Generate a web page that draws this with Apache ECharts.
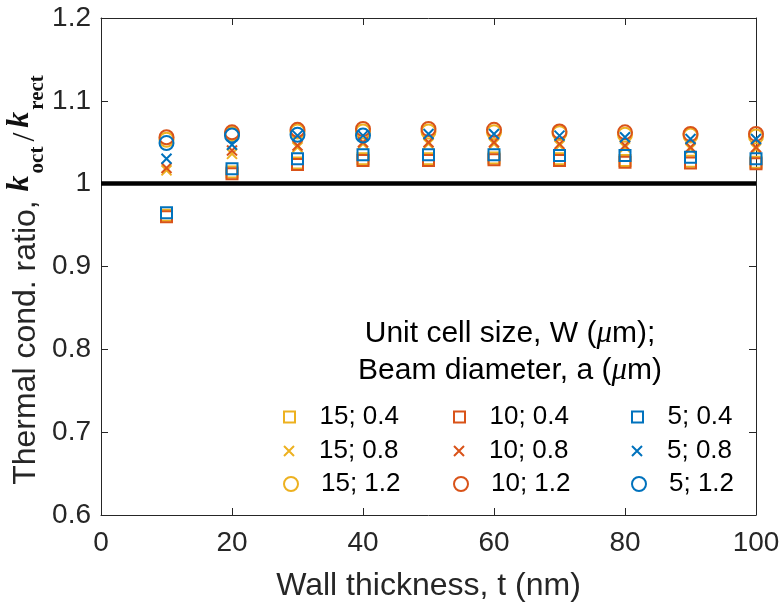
<!DOCTYPE html>
<html>
<head>
<meta charset="utf-8">
<script src="https://cdn.jsdelivr.net/npm/echarts@6/dist/echarts.min.js"></script>
<style>
  html, body { margin: 0; padding: 0; background: #fff; }
  #chart { width: 783px; height: 607px; }
</style>
</head>
<body>
<div id="chart"></div>
<script>
// Wall thickness t (nm)
const wallThickness = [10, 20, 30, 40, 50, 60, 70, 80, 90, 100];

// Thermal conductivity ratio k_oct / k_rect, one array per (W; a) pair
const ratioW15a04 = [0.962, 1.014, 1.025, 1.030, 1.030, 1.031, 1.030, 1.028, 1.027, 1.026];
const ratioW15a08 = [1.016, 1.036, 1.044, 1.048, 1.048, 1.048, 1.046, 1.044, 1.042, 1.042];
const ratioW15a12 = [1.053, 1.060, 1.063, 1.063, 1.063, 1.062, 1.061, 1.059, 1.058, 1.057];
const ratioW10a04 = [0.960, 1.012, 1.023, 1.028, 1.028, 1.029, 1.028, 1.026, 1.025, 1.024];
const ratioW10a08 = [1.019, 1.040, 1.046, 1.050, 1.050, 1.050, 1.048, 1.046, 1.044, 1.044];
const ratioW10a12 = [1.056, 1.062, 1.065, 1.066, 1.066, 1.065, 1.063, 1.062, 1.060, 1.060];
const ratioW5a04  = [0.965, 1.018, 1.030, 1.035, 1.035, 1.035, 1.034, 1.034, 1.032, 1.030];
const ratioW5a08  = [1.030, 1.047, 1.058, 1.058, 1.060, 1.060, 1.058, 1.056, 1.054, 1.054];
const ratioW5a12  = [1.049, 1.058, 1.059, 1.058, null, null, null, null, null, null];

// Legend labels "W; a"
const seriesLabels = ['15; 0.4', '15; 0.8', '15; 1.2', '10; 0.4', '10; 0.8', '10; 1.2', '5; 0.4', '5; 0.8', '5; 1.2'];

// Axis ranges and tick steps
const xRange = [0, 100];
const xTickStep = 20;
const yRange = [0.6, 1.2];
const yTickStep = 0.1;

// Reference ratio (octet equals rectangular)
const referenceRatio = 1;

// ---- styling ----
const COLORS = { W15: '#EDB120', W10: '#D95319', W5: '#0072BD' };
const MARKERS = {
  square: { symbol: 'path://M0 0H10V10H0Z', size: 11 },
  cross:  { symbol: 'path://M0 0L10 10M10 0L0 10', size: 10 },
  circle: { symbol: 'circle', size: 14 }
};
const AXIS_COLOR = '#262626';
const SANS = '"Liberation Sans", Arial, Helvetica, sans-serif';
const SERIF = '"Liberation Serif", "Times New Roman", serif';

const groups = [
  { values: ratioW15a04, color: COLORS.W15, marker: 'square' },
  { values: ratioW15a08, color: COLORS.W15, marker: 'cross' },
  { values: ratioW15a12, color: COLORS.W15, marker: 'circle' },
  { values: ratioW10a04, color: COLORS.W10, marker: 'square' },
  { values: ratioW10a08, color: COLORS.W10, marker: 'cross' },
  { values: ratioW10a12, color: COLORS.W10, marker: 'circle' },
  { values: ratioW5a04,  color: COLORS.W5,  marker: 'square' },
  { values: ratioW5a08,  color: COLORS.W5,  marker: 'cross' },
  { values: ratioW5a12,  color: COLORS.W5,  marker: 'circle' }
];

// legend grid: columns by W, rows by a (marker centres)
const legendColCenters = [289, 459, 637];
const legendRowCenters = [416, 450, 483];

const series = groups.map((g, i) => {
  const m = MARKERS[g.marker];
  const s = {
    name: seriesLabels[i],
    type: 'scatter',
    xAxisIndex: 0,
    yAxisIndex: 0,
    symbol: m.symbol,
    symbolSize: m.size,
    itemStyle: { color: 'rgba(0,0,0,0)', borderColor: g.color, borderWidth: 2, opacity: 1 },
    emphasis: { disabled: true },
    data: wallThickness
      .map((t, k) => [t, g.values[k]])
      .filter(p => p[1] !== null)
  };
  if (i === 0) {
    s.markLine = {
      silent: true,
      symbol: ['none', 'none'],
      label: { show: false },
      lineStyle: { color: '#000', width: 4.5, type: 'solid' },
      emphasis: { disabled: true },
      data: [{ yAxis: referenceRatio }]
    };
  }
  return s;
});

const legends = groups.map((g, i) => {
  const m = MARKERS[g.marker];
  const col = Math.floor(i / 3);
  const row = i % 3;
  return {
    data: [seriesLabels[i]],
    left: legendColCenters[col] - 6,
    top: legendRowCenters[row] - 12,
    padding: 0,
    itemWidth: 50,
    itemHeight: m.size,
    selectedMode: false,
    itemStyle: { borderWidth: 2 },
    textStyle: { fontFamily: SANS, fontSize: 26, color: '#000' }
  };
});

const baseAxisLine = { show: true, onZero: false, lineStyle: { color: AXIS_COLOR, width: 1 } };
const baseTick = { show: true, inside: true, length: 7, lineStyle: { color: AXIS_COLOR, width: 1 } };

const option = {
  animation: false,
  backgroundColor: '#fff',
  grid: { left: 101, right: 27, top: 18, bottom: 91, containLabel: false },
  xAxis: [
    {
      type: 'value', position: 'bottom',
      min: xRange[0], max: xRange[1], interval: xTickStep,
      axisLine: baseAxisLine, axisTick: baseTick, splitLine: { show: false },
      axisLabel: { color: AXIS_COLOR, fontFamily: SANS, fontSize: 28, margin: 14,
                   alignMinLabel: 'center', alignMaxLabel: 'center' },
      name: 'Wall thickness, t (nm)',
      nameLocation: 'middle', nameGap: 55,
      nameTextStyle: { color: AXIS_COLOR, fontFamily: SANS, fontSize: 32 }
    },
    {
      type: 'value', position: 'top',
      min: xRange[0], max: xRange[1], interval: xTickStep,
      axisLine: baseAxisLine, axisTick: baseTick, splitLine: { show: false },
      axisLabel: { show: false }
    }
  ],
  yAxis: [
    {
      type: 'value', position: 'left',
      min: yRange[0], max: yRange[1], interval: yTickStep,
      axisLine: baseAxisLine, axisTick: baseTick, splitLine: { show: false },
      axisLabel: { color: AXIS_COLOR, fontFamily: SANS, fontSize: 28, margin: 10 }
    },
    {
      type: 'value', position: 'right',
      min: yRange[0], max: yRange[1], interval: yTickStep,
      axisLine: baseAxisLine, axisTick: baseTick, splitLine: { show: false },
      axisLabel: { show: false }
    }
  ],
  legend: legends,
  graphic: [
    {
      // legend heading
      type: 'text',
      x: 510, y: 315,
      silent: true,
      style: {
        text: '{t|Unit cell size, W (}{mu|μ}{t|m);}\n{t|Beam diameter, a (}{mu|μ}{t|m)}',
        align: 'center',
        verticalAlign: 'top',
        rich: {
          t:  { fontFamily: SANS, fontSize: 30, fill: '#000', lineHeight: 37 },
          mu: { fontFamily: SERIF, fontStyle: 'italic', fontSize: 31, fill: '#000', lineHeight: 37 }
        }
      }
    },
    {
      // y-axis title, rotated to read bottom to top
      type: 'text',
      x: 26, y: 280,
      rotation: Math.PI / 2,
      silent: true,
      style: {
        text: '{n|Thermal cond. ratio, }{k|k}{s|oct}{sl|/}{k|k}{s|rect}',
        align: 'center',
        verticalAlign: 'middle',
        rich: {
          n:  { fontFamily: SANS, fontSize: 32, fill: AXIS_COLOR, lineHeight: 44 },
          k:  { fontFamily: SERIF, fontStyle: 'italic', fontWeight: 'bold', fontSize: 32, fill: '#111',
                lineHeight: 38, verticalAlign: 'top', padding: [0, 2, 0, 0] },
          s:  { fontFamily: SERIF, fontWeight: 'bold', fontSize: 21, fill: '#111',
                lineHeight: 28, verticalAlign: 'bottom' },
          sl: { fontFamily: SERIF, fontSize: 32, fill: '#111', lineHeight: 44, padding: [0, 5, 0, 5] }
        }
      }
    }
  ],
  series: series
};

const chart = echarts.init(document.getElementById('chart'), null, { renderer: 'canvas' });
chart.setOption(option);
</script>
</body>
</html>
